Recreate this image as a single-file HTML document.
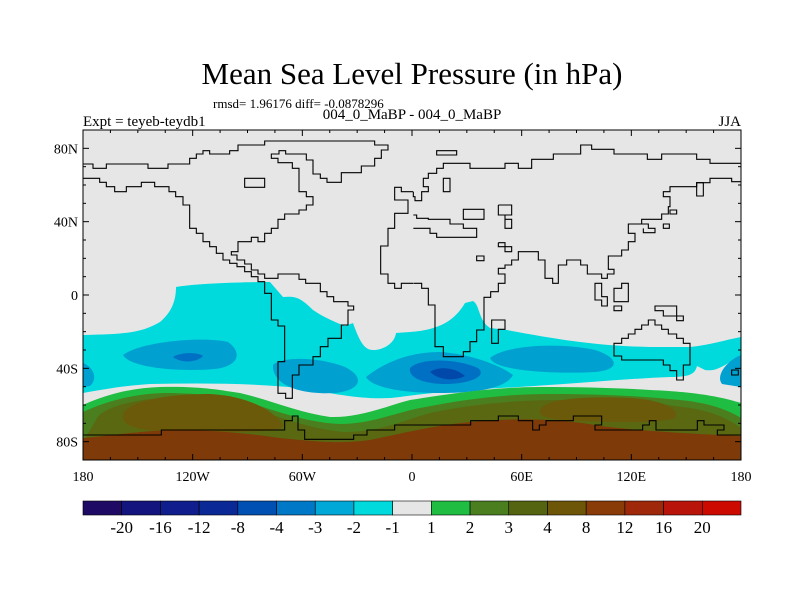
<!DOCTYPE html>
<html><head><meta charset="utf-8"><style>
body{margin:0;background:#fff;}
svg{display:block;font-family:"Liberation Serif",serif;}
.cl{fill:none;stroke:#000;stroke-width:1.1;vector-effect:non-scaling-stroke;}
</style></head><body>
<svg width="800" height="600" viewBox="0 0 800 600">
<text x="412" y="84" font-size="31" text-anchor="middle">Mean Sea Level Pressure (in hPa)</text>
<text x="213" y="108" font-size="13">rmsd= 1.96176 diff= -0.0878296</text>
<text x="412" y="119" font-size="15" text-anchor="middle">004_0_MaBP - 004_0_MaBP</text>
<text x="83" y="126" font-size="15">Expt = teyeb-teydb1</text>
<text x="741" y="126" font-size="15" text-anchor="end">JJA</text>
<defs><clipPath id="pc"><rect x="83" y="130" width="658" height="330"/></clipPath></defs>
<g clip-path="url(#pc)">
<rect x="83" y="130" width="658" height="330" fill="#e6e6e6"/>
<path fill="#00dadc" d="M83,335 C120,334 140,334 160,322 C172,312 176,300 176,287 C200,283 250,282 270,282 L283,297 C295,296 300,297 313,310 C325,318 335,322 345,326 L353,323 C360,343 365,350 373,350 C385,350 395,342 396,333 L410,332 C440,330 455,320 465,303 L473,301 C480,305 478,320 490,328 L507,330 C560,340 600,346 650,347 L690,347 C710,345 725,340 741,337 L741,356 C725,364 718,372 705,370 L697,366 C695,374 690,377 670,377 C620,379 560,385 500,388 C460,390 420,394 400,397 C370,401 340,395 300,388 C250,383 200,383 150,384 C120,386 100,390 83,393 Z"/>
<g fill="#00a0d0">
<path d="M123,355 C140,342 200,336 228,342 C242,352 240,366 215,369 C180,372 130,368 123,355 Z"/>
<path d="M273,365 C282,356 320,357 345,367 C365,377 362,390 335,393 C300,395 272,385 273,365 Z"/>
<path d="M366,377 C385,362 410,352 440,352 C470,354 500,365 513,375 C505,390 470,393 440,393 C405,393 372,388 366,377 Z"/>
<path d="M490,358 C505,345 560,342 595,350 C620,358 620,370 595,372 C560,374 495,372 490,358 Z"/>
<path d="M741,355 C728,360 715,375 722,384 L741,387 Z"/>
<path d="M83,363 C92,366 99,378 90,386 L83,387 Z"/>
</g>
<path fill="#0070c4" d="M173,357 C180,352 198,352 203,356 C198,362 182,364 173,357 Z"/>
<path fill="#0070c4" d="M410,368 C420,358 455,358 478,368 C488,376 470,384 445,384 C425,384 408,378 410,368 Z"/>
<path fill="#0048aa" d="M430,372 C438,366 455,367 465,376 C455,381 440,381 430,372 Z"/>
<path fill="#1fbd42" d="M83,405 C105,395 130,388 160,387 C200,386 220,390 240,393 C270,400 300,413 330,417 C360,418 390,405 410,400 C460,392 500,387 540,387 C580,387 620,388 650,390 C700,392 725,398 741,403 L741,460 L83,460 Z"/>
<path fill="#4a7e1e" d="M83,412 C105,402 130,394 165,393 C205,393 235,398 260,406 C290,416 315,423 340,424 C370,424 395,413 420,408 C470,398 510,394 550,394 C600,394 640,396 680,400 C710,403 728,410 741,418 L741,460 L83,460 Z"/>
<path fill="#5a6812" d="M96,420 C100,410 125,400 165,398 C205,398 240,404 270,414 C300,424 320,430 345,432 C380,432 405,420 430,413 C470,404 520,400 560,400 C610,400 650,402 690,408 C715,412 730,420 741,428 L741,460 L83,460 L83,440 C90,432 92,426 96,420 Z"/>
<g fill="#6b5a0a">
<path d="M123,414 C130,400 170,394 210,394 C250,396 275,412 283,425 C285,432 250,432 200,432 C150,432 120,430 123,414 Z"/>
<path d="M540,410 C545,398 590,396 630,398 C665,400 680,410 675,418 C660,424 600,422 560,420 C545,418 538,415 540,410 Z"/>
</g>
<path fill="#7e3a08" d="M83,438 C110,436 130,432 170,430 C220,430 250,434 280,438 C320,442 340,444 370,440 C400,434 430,426 470,422 C510,418 560,418 600,426 C650,432 700,434 741,436 L741,460 L83,460 Z"/>
<g transform="translate(83,130) scale(0.33333)">
<polyline class="cl" points="0,102 30,102 30,115 70,115 70,102 195,102 195,115 255,115 255,102 320,102 320,85 340,85 340,72 360,72 360,62 380,62 380,72 440,72 440,62 465,62 465,45 545,45 545,33 875,33 875,45 915,45 915,60 895,60 895,85 875,85 875,108 835,108 835,128 775,128 775,157 732,157 732,145 712,145 712,132 690,132 690,90 670,90 670,72 608,72 608,62 588,62 588,72 565,72 565,85 585,85 585,98 628,98 628,115 648,115 648,185 670,185 670,200 690,200 690,225 670,225 670,240 648,240 648,252 605,252 605,268 585,268 585,295 565,295 565,310 545,310 545,335 525,335 525,322 505,322 505,335 465,335 465,365 445,365 445,375 462,375 462,390 485,390 485,402 505,402 505,420 525,420 525,432 545,432 545,445 585,445 585,432 648,432 648,448 668,448 668,460 712,460 712,485 732,485 732,500 752,500 752,515 795,515 795,528 812,528 812,540 795,540 795,585 775,585 775,625 735,625 735,650 712,650 712,680 690,680 690,705 648,705 648,735 628,735 628,805 608,805 608,790 585,790 585,695 605,695 605,588 585,588 585,570 565,570 565,490 545,490 545,455 525,455 525,440 505,440 505,425 485,425 485,410 462,410 462,400 440,400 440,390 420,390 420,370 400,370 400,350 380,350 380,335 360,335 360,310 340,310 340,295 320,295 320,225 300,225 300,200 278,200 278,185 258,185 258,170 215,170 215,157 175,157 175,170 130,170 130,185 95,185 95,170 70,170 70,157 50,157 50,145 0,145"/>
<rect class="cl" x="485" y="145" width="60" height="27"/>
<polyline class="cl" points="990,185 955,185 955,172 935,172 935,210 975,210 975,250 935,250 935,295 915,295 915,348 893,348 893,432 915,432 915,460 935,460 935,475 955,475 955,460 990,460"/>
</g>
<g transform="translate(410,130) scale(0.33333)">
<polyline class="cl" points="10,185 10,200 15,200 15,212 35,212 35,185 55,185 55,170 40,170 40,145 55,145 55,130 80,130 80,115 100,115 100,100 180,100 180,115 285,115 285,100 325,100 325,115 365,115 365,88 430,88 430,72 512,72 512,45 545,45 545,58 612,58 612,72 712,72 712,88 755,88 755,72 860,72 860,88 900,88 900,100 993,100"/>
<polyline class="cl" points="10,460 35,460 35,475 55,475 55,525 75,525 75,650 100,650 100,680 160,680 160,665 180,665 180,635 200,635 200,600 222,600 222,502 242,502 242,485 265,485 265,460 285,460 285,432 265,432 265,415 285,415 285,405 305,405 305,390 325,390 325,365 385,365 385,390 405,390 405,445 428,445 428,460 445,460 445,405 470,405 470,390 512,390 512,405 532,405 532,432 575,432 575,445 592,445 592,432 612,432 612,418 595,418 595,378 635,378 635,360 655,360 655,335 675,335 675,310 655,310 655,282 695,282 695,268 755,268 755,252 775,252 775,230 780,230 780,200 760,200 760,185 780,185 780,170 860,170 860,158 900,158 900,145 965,145 965,155 993,155"/>
<polyline class="cl" points="10,255 20,255 20,265 55,265 55,268 120,268 120,282 160,282 160,295 200,295 200,322 80,322 80,310 60,310 60,295 10,295"/>
<rect class="cl" x="80" y="62" width="60" height="13"/>
<rect class="cl" x="100" y="145" width="20" height="40"/>
<rect class="cl" x="160" y="238" width="62" height="30"/>
<polyline class="cl" points="265,225 305,225 305,255 285,255 285,295 305,295 305,268 285,268 285,255 265,255 265,225"/>
<polyline class="cl" points="265,338 285,338 285,350 305,350 305,365 285,365 285,350 265,350 265,338"/>
<rect class="cl" x="200" y="378" width="22" height="14"/>
<polygon class="cl" points="245,570 285,570 285,598 265,598 265,640 245,640"/>
<polygon class="cl" points="555,460 575,460 575,500 592,500 592,528 575,528 575,510 555,510"/>
<polygon class="cl" points="612,475 635,475 635,460 655,460 655,515 612,515"/>
<rect class="cl" x="612" y="528" width="23" height="14"/>
<polygon class="cl" points="735,528 800,528 800,558 820,558 820,572 800,572 800,558 760,558 760,542 735,542"/>
<polygon class="cl" points="612,640 635,640 635,625 655,625 655,612 675,612 675,598 695,598 695,585 715,585 715,570 735,570 735,585 755,585 755,598 775,598 775,612 800,612 800,625 820,625 820,640 840,640 840,705 820,705 820,750 800,750 800,722 780,722 780,705 760,705 760,690 635,690 635,678 612,678"/>
<rect class="cl" x="860" y="158" width="20" height="40"/>
<rect class="cl" x="780" y="240" width="20" height="12"/>
<rect class="cl" x="760" y="282" width="18" height="13"/>
<polyline class="cl" points="695,282 715,282 715,295 735,295 735,308 700,308 700,295"/>
<rect class="cl" x="965" y="720" width="20" height="15"/>
</g>
<g transform="translate(83,380) scale(0.33333)">
<polyline class="cl" points="0,165 235,165 235,150 605,150 605,122 628,122 628,108 645,108 645,150 665,150 665,178 812,178 812,165 852,165 852,150 935,150 935,135 990,135"/>
</g>
<g transform="translate(410,380) scale(0.33333)">
<polyline class="cl" points="-10,135 182,135 182,122 265,122 265,108 325,108 325,122 368,122 368,150 388,150 388,135 408,135 408,122 490,122 490,108 575,108 575,135 555,135 555,150 698,150 698,135 718,135 718,122 738,122 738,150 862,150 862,122 882,122 882,135 942,135 942,150 922,150 922,165 993,165"/>
</g>
</g>
<rect x="83" y="130" width="658" height="330" fill="none" stroke="#000" stroke-width="1"/>
<g id="axes" font-size="14"></g>
<g id="cbar" font-size="17"></g>
<script>
const levels=["-20","-16","-12","-8","-4","-3","-2","-1","1","2","3","4","8","12","16","20"];
const colors=["#1e0a64","#14147e","#0f1e8c","#0a2896","#0050b4","#0078c8","#00a8d8","#00dadc","#e6e6e6","#1fbd42","#4a7e1e","#556410","#6e5608","#8a3c08","#a0280a","#b8140a","#cc0a00"];
const latTicks=[80,40,0,-40,-80];
const latLabels=["80N","40N","0","40S","80S"];
const lonTicks=[-180,-120,-60,0,60,120,180];
const lonLabels=["180","120W","60W","0","60E","120E","180"];
const NS="http://www.w3.org/2000/svg";
const X0=83,X1=741,Y0=130,Y1=460;
const xs=lon=>X0+(lon+180)/360*(X1-X0);
const ys=lat=>Y0+(90-lat)/180*(Y1-Y0);
const ax=document.getElementById('axes');
function mk(t,a){const e=document.createElementNS(NS,t);for(const k in a)e.setAttribute(k,a[k]);return e;}
for(let lon=-180;lon<=180;lon+=15){const x=xs(lon);const L=lon%60===0?6:3;
const t1=mk('line',{x1:x,x2:x,y1:Y1,y2:Y1-L,stroke:'#000'});ax.appendChild(t1);
const t2=mk('line',{x1:x,x2:x,y1:Y0,y2:Y0+L,stroke:'#000'});ax.appendChild(t2);}
for(let lat=-90;lat<=90;lat+=10){const y=ys(lat);const L=lat%40===0?6:3;
const t1=mk('line',{x1:X0,x2:X0+L,y1:y,y2:y,stroke:'#000'});ax.appendChild(t1);
const t2=mk('line',{x1:X1,x2:X1-L,y1:y,y2:y,stroke:'#000'});ax.appendChild(t2);}
lonTicks.forEach((v,i)=>{const t=mk('text',{x:xs(v),y:Y1+21,'text-anchor':'middle'});t.textContent=lonLabels[i];

ax.appendChild(t);});
latTicks.forEach((v,i)=>{const t=mk('text',{x:X0-5,y:ys(v)+5,'text-anchor':'end'});t.textContent=latLabels[i];

ax.appendChild(t);});
const cb=document.getElementById('cbar');const w=(X1-X0)/colors.length;
colors.forEach((c,i)=>{const r=mk('rect',{x:X0+i*w,y:501,width:w,height:14,fill:c,stroke:'#000','stroke-width':0.6});

cb.appendChild(r);});
levels.forEach((l,i)=>{const t=mk('text',{x:X0+(i+1)*w,y:533,'text-anchor':'middle'});t.textContent=l;

cb.appendChild(t);});
</script>
</svg>
</body></html>
